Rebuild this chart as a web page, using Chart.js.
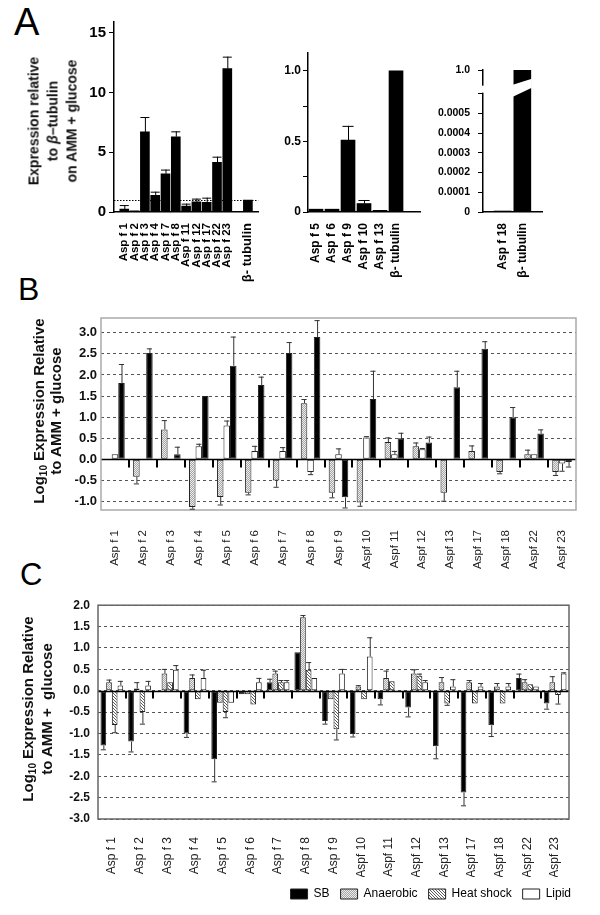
<!DOCTYPE html>
<html>
<head>
<meta charset="utf-8">
<script src="https://cdn.jsdelivr.net/npm/chart.js@4/dist/chart.umd.min.js"></script>
<style>
  html, body { margin: 0; padding: 0; background: #fff; }
  body { width: 600px; height: 915px; position: relative; overflow: hidden; font-family: "Liberation Sans", Arial, sans-serif; }
  canvas { position: absolute; }
  .letter { position: absolute; line-height: 1; color: #000; }
  .ytitle { position: absolute; font-weight: bold; text-align: center; white-space: nowrap; color: #111;
            transform: translate(-50%, -50%) rotate(-90deg); }
  .ytitle sub { font-size: 10px; vertical-align: -3px; line-height: 0; }
</style>
</head>
<body>
<canvas id="a1" width="215" height="282" style="left:60px;top:10px"></canvas>
<canvas id="a2" width="155" height="252" style="left:275px;top:40px"></canvas>
<canvas id="a3" width="160" height="252" style="left:432px;top:40px"></canvas>
<canvas id="b" width="535" height="280" style="left:60px;top:305px"></canvas>
<canvas id="c" width="545" height="325" style="left:55px;top:590px"></canvas>

<div class="letter" style="left:14px;top:3px;font-size:38px">A</div>
<div class="letter" style="left:18px;top:273px;font-size:32px">B</div>
<div class="letter" style="left:20px;top:559px;font-size:31px">C</div>

<div class="ytitle" style="left:53px;top:121px;font-size:14px;line-height:19px">Expression relative<br>to <i>β</i>–tubulin<br>on AMM + glucose</div>
<div class="ytitle" style="left:47px;top:411px;font-size:15px;line-height:17px">Log<sub>10</sub> Expression Relative<br>to AMM + glucose</div>
<div class="ytitle" style="left:37px;top:709px;font-size:15px;line-height:19px">Log<sub>10</sub> Expression Relative<br>to AMM +&nbsp; glucose</div>

<script>
Chart.defaults.font.family = '"Liberation Sans", Arial, sans-serif';
Chart.defaults.color = '#000';
Chart.defaults.animation = false;

// ---- panel A (expression relative to beta-tubulin)
const BETA = 'β- tubulin';
const A1_LABELS = ['Asp f 1', 'Asp f 2', 'Asp f 3', 'Asp f 4', 'Asp f 7', 'Asp f 8', 'Asp f 11', 'Asp f 12', 'Asp f 17', 'Asp f 22', 'Asp f 23', BETA];
const A1_VALUES = [0.25, 0.1, 6.7, 1.4, 3.2, 6.3, 0.5, 0.85, 0.8, 4.15, 12.0, 1.0];
const A1_ERR    = [0.58, null, 7.95, 1.7, 3.55, 6.75, 0.7, 1.12, 1.2, 4.63, 13.0, null];
const A1_TICKS  = [0, 5, 10, 15];
const A1_REF = 1;

const A2_LABELS = ['Asp f 5', 'Asp f 6', 'Asp f 9', 'Asp f 10', 'Asp f 13', BETA];
const A2_VALUES = [0.02, 0.02, 0.51, 0.06, 0.012, 1.0];
const A2_ERR    = [null, null, 0.61, 0.085, null, null];
const A2_TICKS  = [0, 0.25, 0.5, 0.75, 1.0];
const A2_TICK_LABELS = ['0', '', '0.5', '', '1.0'];

const A3_LABELS = ['Asp f 18', BETA];
const A3_VALUES = [0.000005, 1.0];
const A3_TICKS  = [0, 0.0001, 0.0002, 0.0003, 0.0004, 0.0005, 0.0006, 0.00072];
const A3_TICK_LABELS = ['0', '0.0001', '0.0002', '0.0003', '0.0004', '0.0005', '', '1.0'];
const A3_BREAK = 0.0006;

// ---- panels B and C share the allergen list
const ALLERGENS = ['Asp f 1', 'Asp f 2', 'Asp f 3', 'Asp f 4', 'Asp f 5', 'Asp f 6', 'Asp f 7', 'Asp f 8', 'Asp f 9',
  'Aspf 10', 'Aspf 11', 'Aspf 12', 'Aspf 13', 'Aspf 17', 'Aspf 18', 'Aspf 22', 'Aspf 23'];

const B_GRAY      = [0, -0.41, 0.71, -1.13, -0.89, -0.79, -0.5, 1.33, -0.79, -1.02, 0.41, 0.31, -0.79, 0.2, -0.3, 0.12, -0.3];
const B_GRAY_ERR  = [null, -0.57, 0.93, -1.17, -1.07, -0.83, -0.65, 1.43, -0.9, -1.1, 0.52, 0.4, -0.98, 0.33, -0.33, 0.23, -0.37];
const B_WHITE     = [0.12, 0, 0, 0.31, 0.8, 0.2, 0.2, -0.3, 0.12, 0.52, 0.12, 0.24, 0, 0, 0, 0.12, -0.1];
const B_WHITE_ERR = [null, null, null, 0.37, 0.92, 0.32, 0.29, -0.35, 0.26, 0.55, 0.2, 0.27, null, null, null, null, -0.27];
const B_BLACK     = [1.81, 2.52, 0.12, 1.5, 2.22, 1.76, 2.52, 2.9, -0.9, 1.43, 0.5, 0.4, 1.71, 2.62, 1.0, 0.61, -0.06];
const B_BLACK_ERR = [2.26, 2.63, 0.3, null, 2.91, 1.96, 2.78, 3.3, -1.14, 2.1, 0.63, 0.54, 2.1, 2.8, 1.24, 0.71, -0.17];
const B_TICKS = [-1, -0.5, 0, 0.5, 1, 1.5, 2, 2.5, 3];

const C_SB        = [-1.28, -1.19, 0, -1.0, -1.6, -0.08, 0.2, 0.9, -0.71, -1.01, -0.2, -0.39, -1.3, -2.38, -0.81, 0.3, -0.3];
const C_SB_ERR    = [-1.37, -1.42, null, -1.08, -2.12, null, 0.28, null, -0.77, -1.07, -0.32, -0.6, -1.58, -2.68, -1.06, 0.4, -0.42];
const C_ANA       = [0.2, 0.05, 0.4, 0.3, -0.28, -0.08, 0.4, 1.72, -0.2, 0.1, 0.3, 0.4, 0.2, 0.2, 0.1, 0.2, 0.2];
const C_ANA_ERR   = [0.26, 0.2, 0.51, 0.38, null, null, 0.47, 1.77, null, 0.13, 0.47, 0.5, 0.32, 0.25, 0.18, 0.27, 0.34];
const C_HEAT      = [-0.8, -0.5, 0.2, -0.2, -0.5, -0.32, 0.2, 0.49, -0.9, -0.2, 0.22, 0.35, -0.3, -0.3, -0.3, 0.15, -0.1];
const C_HEAT_ERR  = [-0.97, -0.77, null, null, -0.62, null, 0.25, 0.67, -1.14, null, null, 0.4, -0.33, null, null, null, -0.3];
const C_LIPID     = [0.12, 0.12, 0.49, 0.3, -0.28, 0.2, 0.2, 0.3, 0.4, 0.8, 0, 0.2, 0.1, 0.1, 0.1, 0.1, 0.4];
const C_LIPID_ERR = [0.23, 0.23, 0.6, 0.49, null, 0.3, 0.25, null, 0.51, 1.25, null, 0.25, 0.27, 0.18, 0.18, null, 0.43];
const C_TICKS = [-3, -2.5, -2, -1.5, -1, -0.5, 0, 0.5, 1, 1.5, 2];

// ---- fills
function pattern(kind) {
  const c = document.createElement('canvas');
  const g = c.getContext('2d');
  if (kind === 'dots') {
    c.width = 2; c.height = 2;
    g.fillStyle = '#ececec'; g.fillRect(0, 0, 2, 2);
    g.fillStyle = '#a6a6a6'; g.fillRect(0, 0, 1, 1); g.fillRect(1, 1, 1, 1);
  } else {
    c.width = 3; c.height = 3;
    g.fillStyle = '#fff'; g.fillRect(0, 0, 3, 3);
    g.fillStyle = '#5a5a5a';
    for (let i = 0; i < 3; i++) g.fillRect(i, i, 1, 1);
  }
  return g.createPattern(c, 'repeat');
}
const DOTS = pattern('dots');
const HATCH = pattern('hatch');

// ---- helpers
const fixWidth = (w) => (s) => { s.width = w; };
const fixHeight = (h) => (s) => { s.height = h; };
const setTicks = (vals) => (s) => { s.ticks = vals.map((v) => ({ value: v })); };

const errorBars = {
  id: 'errorBars',
  afterDatasetsDraw(chart, args, opts) {
    const { ctx } = chart;
    const y = chart.scales.y;
    chart.data.datasets.forEach((ds, di) => {
      if (!ds.err) return;
      chart.getDatasetMeta(di).data.forEach((bar, i) => {
        const e = ds.err[i];
        if (e == null || ds.data[i] == null) return;
        const y0 = y.getPixelForValue(ds.data[i]);
        const y1 = y.getPixelForValue(e);
        const half = Math.max(2, bar.width * opts.cap);
        ctx.save();
        ctx.strokeStyle = opts.color;
        ctx.lineWidth = 1;
        ctx.beginPath();
        ctx.moveTo(bar.x + 0.5, y0); ctx.lineTo(bar.x + 0.5, y1);
        ctx.moveTo(bar.x - half, y1 + 0.5); ctx.lineTo(bar.x + half, y1 + 0.5);
        ctx.stroke();
        ctx.restore();
      });
    });
  }
};

const refLine = {
  id: 'refLine',
  beforeDatasetsDraw(chart) {
    const { ctx, chartArea: ca } = chart;
    const y = Math.round(chart.scales.y.getPixelForValue(A1_REF)) + 0.5;
    ctx.save();
    ctx.strokeStyle = '#000'; ctx.lineWidth = 1; ctx.setLineDash([1.5, 1.5]);
    ctx.beginPath(); ctx.moveTo(ca.left, y); ctx.lineTo(ca.right, y); ctx.stroke();
    ctx.restore();
  }
};

const breakMark = {
  id: 'breakMark',
  afterDraw(chart) {
    const { ctx, chartArea: ca } = chart;
    const y0 = chart.scales.y.getPixelForValue(A3_BREAK);
    ctx.save();
    ctx.fillStyle = '#fff';
    ctx.fillRect(ca.left - 2, y0 - 8, 4, 7);
    const bar = chart.getDatasetMeta(0).data[chart.data.labels.indexOf(BETA)];
    const xl = bar.x - bar.width / 2 - 1, xr = bar.x + bar.width / 2 + 1;
    ctx.beginPath();
    ctx.moveTo(xl, y0 - 9); ctx.lineTo(xr, y0 - 15); ctx.lineTo(xr, y0 - 6); ctx.lineTo(xl, y0 + 3);
    ctx.closePath(); ctx.fill();
    ctx.restore();
  }
};

const frame = {
  id: 'frame',
  afterDatasetsDraw(chart, args, opts) {
    const { ctx, chartArea: ca } = chart;
    const x = chart.scales.x;
    const y0 = Math.round(chart.scales.y.getPixelForValue(0)) + 0.5;
    ctx.save();
    ctx.strokeStyle = '#000';
    ctx.lineWidth = 1.5;
    ctx.beginPath(); ctx.moveTo(ca.left, y0); ctx.lineTo(ca.right, y0); ctx.stroke();
    ctx.lineWidth = 2;
    ctx.beginPath();
    for (let i = 1; i < chart.data.labels.length; i++) {
      const bx = Math.round((x.getPixelForValue(i - 1) + x.getPixelForValue(i)) / 2);
      ctx.moveTo(bx, y0); ctx.lineTo(bx, y0 + opts.tick);
    }
    ctx.stroke();
    ctx.strokeStyle = opts.color; ctx.lineWidth = 1.5;
    ctx.strokeRect(ca.left, ca.top, ca.right - ca.left, ca.bottom - ca.top);
    ctx.restore();
  }
};

const noPlugins = { legend: { display: false }, tooltip: { enabled: false } };

function axisA(yWidth, ticks, tickFont, tickPad, extra) {
  return Object.assign({
    afterBuildTicks: setTicks(ticks),
    afterFit: fixWidth(yWidth),
    grid: { drawOnChartArea: false, tickLength: 5, color: '#000' },
    border: { color: '#000', width: 1.5 },
    ticks: { font: tickFont, padding: tickPad, color: '#000' }
  }, extra);
}

function xAxisA(font, offset) {
  return {
    offset,
    afterFit: fixHeight(80),
    grid: { display: false },
    border: { color: '#000', width: 1.5 },
    ticks: { minRotation: 90, maxRotation: 90, autoSkip: false, padding: 3, color: '#000', font }
  };
}

// ---- A1: blanks at the axis ends and before beta-tubulin
const A1_SLOTS = ['', ...A1_LABELS.slice(0, -1), '', BETA, ''];
const A1_DATA = [null, ...A1_VALUES.slice(0, -1), null, A1_VALUES.at(-1), null];
const A1_ERRS = [null, ...A1_ERR.slice(0, -1), null, A1_ERR.at(-1), null];

new Chart(document.getElementById('a1'), {
  type: 'bar',
  data: { labels: A1_SLOTS, datasets: [{ data: A1_DATA, err: A1_ERRS, backgroundColor: '#000', barThickness: 9 }] },
  options: {
    responsive: false,
    layout: { padding: { top: 12, right: 8, left: 0, bottom: 0 } },
    plugins: Object.assign({ errorBars: { color: '#000', cap: 0.5 } }, noPlugins),
    scales: {
      x: xAxisA((c) => ({ size: (c.tick && c.tick.label === BETA) ? 13 : 11.5, weight: 'bold' }), false),
      y: axisA(54, A1_TICKS, { size: 15, weight: 'bold' }, 3, { min: 0, max: 15.9 })
    }
  },
  plugins: [refLine, errorBars]
});

// ---- A2
new Chart(document.getElementById('a2'), {
  type: 'bar',
  data: { labels: [...A2_LABELS, ''], datasets: [{ data: A2_VALUES, err: A2_ERR, backgroundColor: '#000', barThickness: 14 }] },
  options: {
    responsive: false,
    layout: { padding: { top: 13, right: 8, left: 0, bottom: 0 } },
    plugins: Object.assign({ errorBars: { color: '#000', cap: 0.4 } }, noPlugins),
    scales: {
      x: xAxisA({ size: 12, weight: 'bold' }, true),
      y: axisA(33, A2_TICKS, { size: 12, weight: 'bold' }, 2, {
        min: 0, max: 1.126,
        ticks: { font: { size: 12, weight: 'bold' }, padding: 2, color: '#000',
                 callback: (v, i) => A2_TICK_LABELS[i] }
      })
    }
  },
  plugins: [errorBars]
});

// ---- A3 (broken axis)
new Chart(document.getElementById('a3'), {
  type: 'bar',
  data: { labels: ['', ...A3_LABELS, ''], datasets: [{ data: [null, ...A3_VALUES, null], backgroundColor: '#000', barThickness: 17 }] },
  options: {
    responsive: false,
    layout: { padding: { top: 30, right: 50, left: 0, bottom: 0 } },
    plugins: noPlugins,
    scales: {
      x: xAxisA({ size: 12, weight: 'bold' }, false),
      y: axisA(51, A3_TICKS, { size: 10.5, weight: 'bold' }, 8, {
        min: 0, max: 0.00072,
        ticks: { font: { size: 10.5, weight: 'bold' }, padding: 8, color: '#000',
                 callback: (v, i) => A3_TICK_LABELS[i] }
      })
    }
  },
  plugins: [breakMark]
});

// ---- B and C shared axis settings
function yAxisLog(min, max, ticks, width, font, pad) {
  return {
    min, max,
    afterBuildTicks: setTicks(ticks),
    afterFit: fixWidth(width),
    grid: { color: '#555', lineWidth: 1, drawTicks: false },
    border: { display: false, dash: [3, 3] },
    ticks: { font, padding: pad, color: '#111', callback: (v) => v.toFixed(1) }
  };
}
function xAxisLog(height, size, pad) {
  return {
    afterFit: fixHeight(height),
    grid: { display: false },
    border: { display: false },
    ticks: { minRotation: 90, maxRotation: 90, autoSkip: false, padding: pad, color: '#222', font: { size } }
  };
}
const barStyle = { borderColor: '#222', borderWidth: 1, borderSkipped: false, categoryPercentage: 0.7, barPercentage: 1 };

// ---- B
new Chart(document.getElementById('b'), {
  type: 'bar',
  data: {
    labels: ALLERGENS,
    datasets: [
      Object.assign({ data: B_GRAY, err: B_GRAY_ERR, backgroundColor: DOTS }, barStyle),
      Object.assign({ data: B_WHITE, err: B_WHITE_ERR, backgroundColor: '#fff' }, barStyle),
      Object.assign({ data: B_BLACK, err: B_BLACK_ERR, backgroundColor: '#000' }, barStyle)
    ]
  },
  options: {
    responsive: false,
    layout: { padding: { top: 13, right: 19, left: 0, bottom: 0 } },
    plugins: Object.assign({ errorBars: { color: '#333', cap: 0.4 }, frame: { color: '#aaa', tick: 8 } }, noPlugins),
    scales: {
      x: xAxisLog(75, 11.5, 12),
      y: yAxisLog(-1.2, 3.35, B_TICKS, 41, { size: 13, weight: 'bold' }, 4)
    }
  },
  plugins: [frame, errorBars]
});

// ---- C
const cStyle = Object.assign({}, barStyle, { categoryPercentage: 0.82 });
new Chart(document.getElementById('c'), {
  type: 'bar',
  data: {
    labels: ALLERGENS,
    datasets: [
      Object.assign({ label: 'SB', data: C_SB, err: C_SB_ERR, backgroundColor: '#000' }, cStyle),
      Object.assign({ label: 'Anaerobic', data: C_ANA, err: C_ANA_ERR, backgroundColor: DOTS }, cStyle),
      Object.assign({ label: 'Heat shock', data: C_HEAT, err: C_HEAT_ERR, backgroundColor: HATCH }, cStyle),
      Object.assign({ label: 'Lipid', data: C_LIPID, err: C_LIPID_ERR, backgroundColor: '#fff' }, cStyle)
    ]
  },
  options: {
    responsive: false,
    layout: { padding: { top: 12, right: 18, left: 0, bottom: 5 } },
    plugins: {
      tooltip: { enabled: false },
      legend: {
        position: 'bottom', align: 'end',
        labels: { boxWidth: 17, boxHeight: 10, padding: 11, color: '#000', font: { size: 12 } }
      },
      errorBars: { color: '#333', cap: 0.45 },
      frame: { color: '#666', tick: 7 }
    },
    scales: {
      x: xAxisLog(58, 12, 10),
      y: yAxisLog(-3, 2, C_TICKS, 43, { size: 12, weight: 'bold' }, 8),
      // empty right-hand axis keeps the plot narrower than the legend row
      yRight: { type: 'linear', position: 'right', afterFit: fixWidth(13),
                grid: { display: false }, border: { display: false }, ticks: { display: false } }
    }
  },
  plugins: [frame, errorBars]
});
</script>
</body>
</html>
